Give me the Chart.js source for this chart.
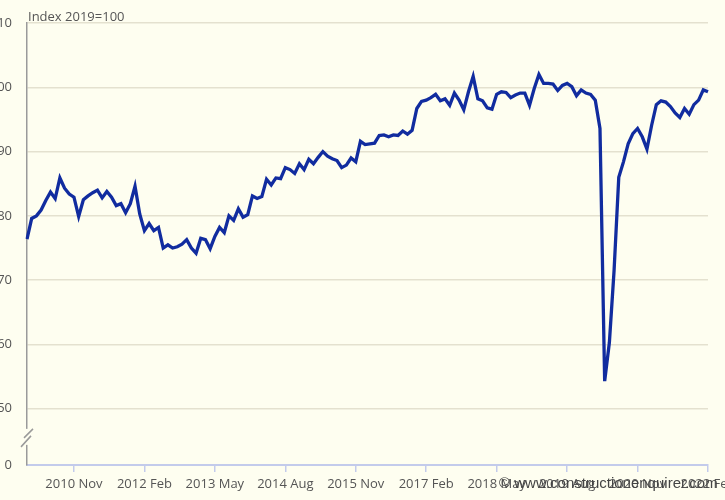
<!DOCTYPE html>
<html>
<head>
<meta charset="utf-8">
<script src="https://cdn.jsdelivr.net/npm/chart.js@4.4.0/dist/chart.umd.min.js"></script>
<style>
    html, body { margin: 0; padding: 0; background: #fefef0; }
    #contenedor { width: 725px; height: 500px; }
</style>
</head>
<body>
<div id="contenedor"><canvas id="indiceChart"></canvas></div>
<script>
// meses y rango de años (mensual, 2010 Jan - 2022 Feb)
const meses = ["Jan", "Feb", "Mar", "Apr", "May", "Jun", "Jul", "Aug", "Sep", "Oct", "Nov", "Dec"];
const anioInicio = 2010;

// indice, 2019 = 100
const valores = [
    76.4, 79.6, 80.0, 80.9, 82.4, 83.7, 82.7, 85.9, 84.3, 83.4, 82.9, 79.9,
    82.5, 83.1, 83.6, 84.0, 82.8, 83.8, 82.9, 81.6, 81.9, 80.5, 81.9, 84.6,
    80.3, 77.7, 78.8, 77.7, 78.2, 75.0, 75.5, 75.0, 75.2, 75.6, 76.3, 75.0,
    74.2, 76.5, 76.3, 74.9, 76.8, 78.2, 77.4, 80.0, 79.3, 81.1, 79.8, 80.2,
    83.1, 82.7, 83.0, 85.7, 84.8, 85.9, 85.8, 87.5, 87.2, 86.6, 88.1, 87.2,
    88.8, 88.1, 89.1, 90.0, 89.3, 88.9, 88.6, 87.5, 87.9, 89.0, 88.4, 91.6,
    91.1, 91.2, 91.3, 92.5, 92.6, 92.3, 92.6, 92.5, 93.2, 92.7, 93.3, 96.7,
    97.8, 98.0, 98.4, 98.9, 97.9, 98.2, 97.2, 99.1, 98.0, 96.5, 99.3, 101.7,
    98.2, 97.9, 96.8, 96.6, 98.9, 99.3, 99.2, 98.4, 98.8, 99.1, 99.1, 97.2,
    99.8, 102.0, 100.6, 100.6, 100.5, 99.5, 100.3, 100.6, 100.1, 98.7, 99.6, 99.1,
    98.9, 98.0, 93.6, 54.3, 60.3, 71.5, 86.0, 88.4, 91.2, 92.8, 93.6, 92.3,
    90.4, 94.1, 97.3, 97.9, 97.7, 97.0, 96.0, 95.3, 96.7, 95.8, 97.3, 98.0,
    99.6, 99.3
];

// ticks del eje y (el 0 va abajo, con corte)
const ticksY = [50, 60, 70, 80, 90, 100, 110];
const pasoEtiquetasX = 15;      // una etiqueta cada 15 meses
const primeraEtiquetaX = 10;    // 2010 Nov
const titulo = "Index 2019=100";
const marcaAgua = "\u00a9 www.constructionenquirer.com";

const etiquetas = valores.map((v, i) => (anioInicio + Math.floor(i / 12)) + " " + meses[i % 12]);

const minEje = 41.25; // posicion del "0" debajo del corte
const fondo = '#fefef0';
const fuente = "'Open Sans', 'Noto Sans', sans-serif";

const extras = {
    id: 'extras',
    afterDraw(chart) {
        const c = chart.ctx;
        const y = chart.scales.y;
        const x0 = y.right;
        const yc = (y.getPixelForValue(minEje) + y.getPixelForValue(50)) / 2;

        // corte del eje
        c.save();
        c.fillStyle = fondo;
        c.fillRect(x0 - 3, yc - 8, 6, 16);
        c.strokeStyle = '#9a9a9a';
        c.lineWidth = 1.5;
        c.beginPath();
        c.moveTo(x0 - 3, yc + 1); c.lineTo(x0 + 6, yc - 8);
        c.moveTo(x0 - 6, yc + 10); c.lineTo(x0 + 4, yc - 1);
        c.stroke();

        // titulo
        c.fillStyle = '#555';
        c.font = "13px " + fuente;
        c.textAlign = 'left';
        c.textBaseline = 'alphabetic';
        c.fillText(titulo, x0 + 1, 21);

        // marca de agua
        c.fillStyle = '#444';
        c.font = "15px 'Liberation Sans', Arial, sans-serif";
        c.textBaseline = 'middle';
        c.fillText(marcaAgua, 499, 484);
        c.restore();
    }
};

const ctx = document.getElementById('indiceChart').getContext('2d');

new Chart(ctx, {
    type: 'line',
    data: {
        labels: etiquetas,
        datasets: [{
            label: 'Index',
            data: valores,
            borderColor: '#112c9f',
            borderWidth: 3.3,
            pointRadius: 0,
            tension: 0,
            fill: false
        }]
    },
    options: {
        responsive: true,
        maintainAspectRatio: false,
        animation: false,
        layout: { padding: { top: 23, right: 17, bottom: 0, left: 0 } },
        plugins: {
            legend: { display: false },
            tooltip: { enabled: false }
        },
        scales: {
            x: {
                offset: false,
                afterBuildTicks: (scale) => {
                    scale.ticks = scale.ticks.filter(t => t.value % pasoEtiquetasX === primeraEtiquetaX);
                },
                afterFit: (scale) => {
                    scale.height = 35;
                    scale.paddingLeft = 0;
                    scale.paddingRight = 0;
                },
                ticks: {
                    autoSkip: false,
                    maxRotation: 0,
                    padding: 4,
                    color: '#555',
                    font: { family: fuente, size: 13 },
                    callback: function (value) { return this.getLabelForValue(value); }
                },
                grid: {
                    drawOnChartArea: false,
                    drawTicks: true,
                    tickLength: 7,
                    color: '#c3cbeb',
                    lineWidth: 1.5
                },
                border: { color: '#c3cbeb', width: 2 }
            },
            y: {
                min: minEje,
                max: 110,
                afterBuildTicks: (scale) => {
                    scale.ticks = [minEje].concat(ticksY).map(v => ({ value: v }));
                },
                afterFit: (scale) => { scale.width = 27; },
                ticks: {
                    padding: 15,
                    color: '#555',
                    font: { family: fuente, size: 13 },
                    callback: (value) => value === minEje ? '0' : value
                },
                grid: {
                    drawTicks: false,
                    color: (c) => c.tick && c.tick.value === minEje ? 'rgba(0,0,0,0)' : '#e4e1cf',
                    lineWidth: 1.5
                },
                border: { color: '#9a9a9a', width: 1.5 }
            }
        }
    },
    plugins: [extras]
});
</script>
</body>
</html>
